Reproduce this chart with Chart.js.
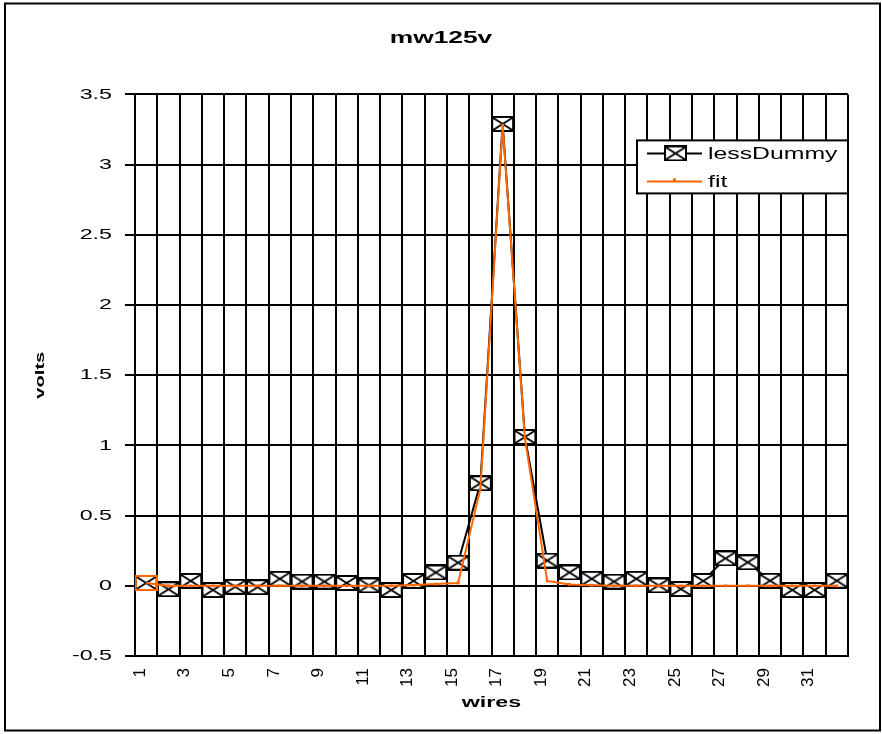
<!DOCTYPE html>
<html>
<head>
<meta charset="utf-8">
<title>mw125v</title>
<script src="https://cdn.jsdelivr.net/npm/chart.js@4.4.1/dist/chart.umd.min.js"></script>
<style>
  html, body { margin: 0; padding: 0; background: #fff; }
  #wrap { position: relative; width: 882px; height: 734px; }
</style>
</head>
<body>
<div id="wrap"><canvas id="chart"></canvas></div>
<script>
const wires = ['1', '2', '3', '4', '5', '6', '7', '8', '9', '10', '11', '12', '13', '14', '15', '16',
               '17', '18', '19', '20', '21', '22', '23', '24', '25', '26', '27', '28', '29', '30', '31', '32'];
const xTickLabels = ['1', '3', '5', '7', '9', '11', '13', '15', '17', '19', '21', '23', '25', '27', '29', '31'];
const yTicks = [-0.5, 0, 0.5, 1, 1.5, 2, 2.5, 3, 3.5];

const lessDummy = [0.02, -0.025, 0.035, -0.03, -0.007, -0.01, 0.05, 0.03, 0.03, 0.02, 0.003, -0.03,
                   0.035, 0.095, 0.165, 0.73, 3.29, 1.06, 0.18, 0.095, 0.05, 0.03, 0.05, 0.003,
                   -0.023, 0.035, 0.195, 0.167, 0.036, -0.03, -0.03, 0.036];
const fit = [0.02, 0, 0, 0, 0, 0, 0, 0, 0, 0, 0, 0,
             0.005, 0.012, 0.02, 0.69, 3.28, 1.05, 0.035, 0.01, 0.004, 0, 0, 0,
             0, 0, 0, 0, 0, 0, 0, 0];

const family = '"Liberation Sans", Arial, sans-serif';
// the old export draws its text wide, so stretch glyphs along the baseline
const SX = 1.55;

const canvas = document.getElementById('chart');
const c2d = canvas.getContext('2d');
const baseFill = c2d.fillText;
const baseMeasure = c2d.measureText;
c2d.fillText = function (text, x, y) {
  const m = this.getTransform();
  // rotated tick labels on the x axis are not stretched in the original
  if (Math.abs(m.b) > 0.01 && !this.font.includes('bold')) {
    return baseFill.call(this, text, x, y);
  }
  this.save();
  this.translate(x, y);
  this.scale(SX, 1);
  baseFill.call(this, text, 0, 0);
  this.restore();
};
c2d.measureText = function (text) {
  return { width: baseMeasure.call(this, text).width * SX };
};

// box with a cross, like the excel marker
function boxMarker(color, cross) {
  const c = document.createElement('canvas');
  c.width = 23;
  c.height = 16;
  const g = c.getContext('2d');
  g.lineWidth = 2;
  g.strokeStyle = color;
  if (cross) {
    g.fillStyle = '#fff';
    g.fillRect(1, 1, 21, 14);
    g.beginPath();
    g.moveTo(2, 2); g.lineTo(21, 14);
    g.moveTo(21, 2); g.lineTo(2, 14);
    g.stroke();
  }
  g.strokeRect(1, 1, 21, 14);
  return c;
}
const marker = boxMarker('#000', true);
const orangeBox = boxMarker('#ff6600', false);

const frame = {
  id: 'frame',
  afterDraw(chart) {
    const ctx = chart.ctx;
    ctx.save();
    ctx.strokeStyle = '#000';
    ctx.lineWidth = 2;
    ctx.strokeRect(5, 3.5, 875, 727);
    ctx.restore();
  }
};

const boxLegend = {
  id: 'boxLegend',
  afterDraw(chart) {
    const { ctx, chartArea } = chart;
    const r = chartArea.right, t = chartArea.top + 46;
    const l = r - 211, b = t + 53;
    ctx.save();
    ctx.fillStyle = '#fff';
    ctx.fillRect(l, t, r - l, b - t);
    ctx.lineWidth = 2;
    ctx.strokeStyle = '#000';
    ctx.strokeRect(l, t, r - l, b - t);
    chart.data.datasets.forEach((ds, i) => {
      const y = t + 13 + i * 28;
      ctx.strokeStyle = ds.borderColor;
      ctx.lineWidth = 2;
      ctx.beginPath();
      ctx.moveTo(l + 10, y);
      ctx.lineTo(l + 65, y);
      ctx.stroke();
      if (i === 0) {
        ctx.drawImage(marker, l + 38 - 11, y - 8);
      } else {
        ctx.fillStyle = ds.borderColor;
        ctx.fillRect(l + 36, y - 3, 3, 3);
      }
      ctx.fillStyle = '#000';
      ctx.font = '16px ' + family;
      ctx.textAlign = 'left';
      ctx.textBaseline = 'middle';
      ctx.fillText(ds.label, l + 71, y + 1);
    });
    ctx.restore();
  }
};

new Chart(canvas, {
  type: 'line',
  data: {
    labels: wires,
    datasets: [
      {
        label: 'lessDummy',
        data: lessDummy,
        borderColor: '#000',
        borderWidth: 2,
        pointStyle: marker,
        pointRadius: 7,
        order: 2
      },
      {
        label: 'fit',
        data: fit,
        borderColor: '#ff6600',
        backgroundColor: '#ff6600',
        borderWidth: 2,
        pointStyle: ctx => ctx.dataIndex === 0 ? orangeBox : 'rect',
        pointRadius: 2,
        pointBorderWidth: 0,
        order: 1
      }
    ]
  },
  options: {
    responsive: true,
    maintainAspectRatio: false,
    animation: false,
    layout: { padding: { left: 10, right: 10, top: 0, bottom: 0 } },
    plugins: {
      legend: { display: false },
      tooltip: { enabled: false },
      title: {
        display: true,
        text: 'mw125v',
        color: '#000',
        font: { family, size: 17, weight: 'bold' },
        padding: { top: 28, bottom: 46 }
      }
    },
    scales: {
      x: {
        offset: true,
        grid: { offset: true, color: '#000', lineWidth: 2, drawTicks: false },
        border: { color: '#000', width: 2 },
        ticks: {
          autoSkip: false,
          minRotation: 90,
          maxRotation: 90,
          padding: 12,
          labelOffset: -6,
          color: '#000',
          font: { family, size: 17 },
          callback: (v, i) => xTickLabels.includes(wires[i]) ? wires[i] : ''
        },
        title: {
          display: true,
          text: 'wires',
          color: '#000',
          font: { family, size: 15, weight: 'bold' },
          padding: { top: 0, bottom: 22 }
        },
        afterFit: s => { s.height = 78; }
      },
      y: {
        min: -0.5,
        max: 3.5,
        afterBuildTicks: s => { s.ticks = yTicks.map(v => ({ value: v })); },
        grid: { color: '#000', lineWidth: 2, tickLength: 10 },
        border: { color: '#000', width: 2 },
        ticks: {
          padding: 13,
          color: '#000',
          font: { family, size: 15 },
          callback: v => String(v)
        },
        title: {
          display: true,
          text: 'volts',
          color: '#000',
          font: { family, size: 13, weight: 'bold' },
          padding: { top: 23, bottom: 0 }
        },
        afterFit: s => { s.width = 125; }
      },
      // empty right box, keeps the plot edge at the same place while the title centres on the frame
      spacer: {
        type: 'linear',
        position: 'right',
        grid: { display: false },
        border: { display: false },
        ticks: { display: false },
        afterFit: s => { s.width = 24; }
      }
    }
  },
  plugins: [frame, boxLegend]
});
</script>
</body>
</html>
